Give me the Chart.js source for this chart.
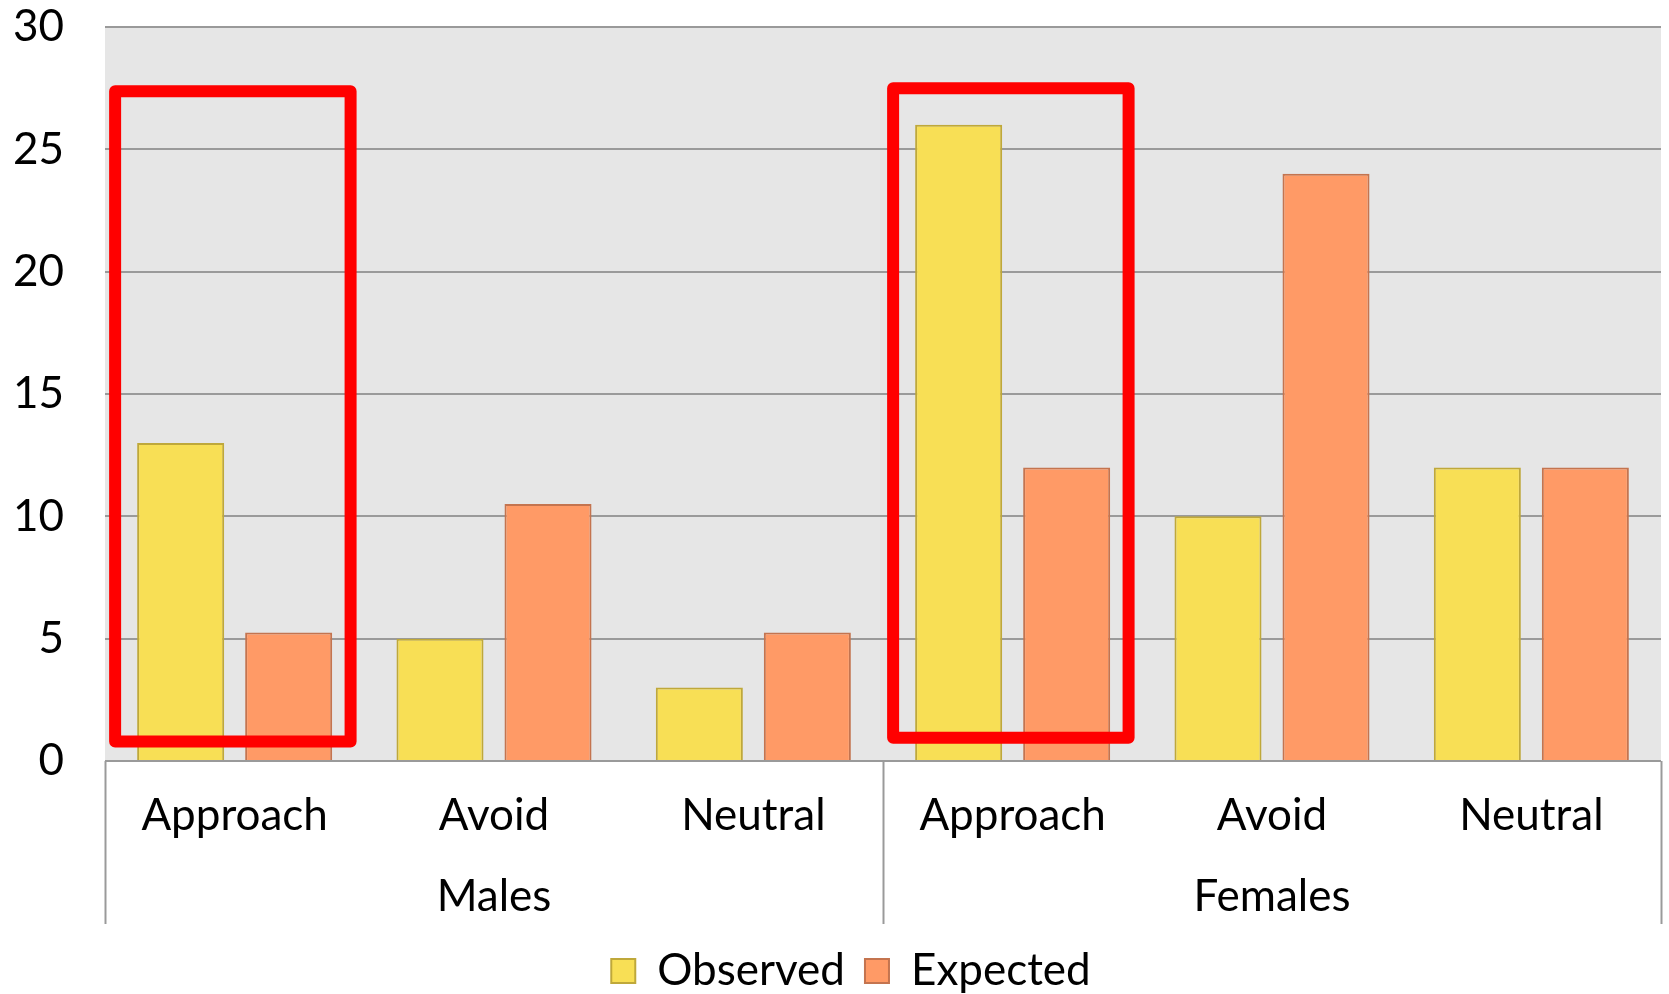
<!DOCTYPE html>
<html>
<head>
<meta charset="utf-8">
<script src="https://cdn.jsdelivr.net/npm/chart.js@4.4.1/dist/chart.umd.min.js"></script>
<style>
  html, body { margin: 0; padding: 0; background: #ffffff; }
  #wrap { width: 1669px; height: 994px; }
</style>
</head>
<body>
<div id="wrap"><canvas id="c" width="1669" height="994"></canvas></div>
<script>
// ---- data ----
const categories = ['Approach', 'Avoid', 'Neutral', 'Approach', 'Avoid', 'Neutral'];
const groupLabels = ['Males', 'Females'];
const groupSpans = [3, 3];
const observed = [13, 5, 3, 26, 10, 12];
const expected = [5.25, 10.5, 5.25, 12, 24, 12];
const seriesNames = ['Observed', 'Expected'];
const yMin = 0, yMax = 30, yStep = 5;
// highlighted categories (red frames), in data units
const highlightIndex = [0, 3];
const highlightTop = [27.37, 27.5];
const highlightBottom = [0.8, 0.95];

const FONT = 'Lato';
const FS = 44;

const plotBg = {
  id: 'plotBg',
  beforeDraw(chart) {
    const { ctx, chartArea: a } = chart;
    ctx.save();
    ctx.fillStyle = '#e6e6e6';
    ctx.fillRect(a.left, a.top, a.right - a.left, a.bottom - a.top);
    ctx.restore();
  }
};

const legendShift = {
  id: 'legendShift',
  afterLayout(chart) {
    if (chart.legend) { chart.legend.left += 14; chart.legend.right += 14; }
  }
};

const groupAxis = {
  id: 'groupAxis',
  afterDraw(chart) {
    const { ctx, chartArea: a } = chart;
    const xs = chart.scales.x;
    const step = xs.getPixelForTick(1) - xs.getPixelForTick(0);
    const bottom = a.bottom + 163;
    ctx.save();
    ctx.strokeStyle = '#9a9a9a';
    ctx.lineWidth = 2;
    const seps = [xs.left];
    let idx = 0;
    groupSpans.forEach(n => { idx += n; seps.push(xs.getPixelForTick(idx - 1) + step / 2); });
    seps.forEach(x => {
      ctx.beginPath();
      ctx.moveTo(Math.round(x) + 0.5, a.bottom);
      ctx.lineTo(Math.round(x) + 0.5, bottom);
      ctx.stroke();
    });
    ctx.fillStyle = '#000';
    ctx.font = FS + 'px ' + FONT;
    ctx.textAlign = 'center';
    ctx.textBaseline = 'middle';
    idx = 0;
    groupLabels.forEach((g, i) => {
      const first = xs.getPixelForTick(idx);
      const last = xs.getPixelForTick(idx + groupSpans[i] - 1);
      ctx.fillText(g, (first + last) / 2, a.bottom + 136);
      idx += groupSpans[i];
    });
    ctx.restore();
  }
};

const frames = {
  id: 'frames',
  afterDatasetsDraw(chart) {
    const { ctx } = chart;
    const xs = chart.scales.x, ys = chart.scales.y;
    const step = xs.getPixelForTick(1) - xs.getPixelForTick(0);
    ctx.save();
    ctx.strokeStyle = '#ff0000';
    ctx.lineWidth = 12;
    ctx.lineJoin = 'round';
    highlightIndex.forEach((ci, i) => {
      const cx = xs.getPixelForTick(ci);
      const x0 = cx - 0.461 * step, x1 = cx + 0.447 * step;
      const y0 = ys.getPixelForValue(highlightTop[i]);
      const y1 = ys.getPixelForValue(highlightBottom[i]);
      ctx.strokeRect(x0, y0, x1 - x0, y1 - y0);
    });
    ctx.restore();
  }
};

new Chart(document.getElementById('c'), {
  type: 'bar',
  data: {
    labels: categories,
    datasets: [
      { label: seriesNames[0], data: observed, backgroundColor: '#f8df55', borderColor: '#bfa83a', borderWidth: 2,
        categoryPercentage: 0.833, barPercentage: 0.806 },
      { label: seriesNames[1], data: expected, backgroundColor: '#ff9a66', borderColor: '#c4744f', borderWidth: 2,
        categoryPercentage: 0.833, barPercentage: 0.806 }
    ]
  },
  options: {
    responsive: false,
    animation: false,
    devicePixelRatio: 1,
    layout: { padding: { left: 13, right: 8, top: 0, bottom: -9 } },
    plugins: {
      tooltip: { enabled: false },
      legend: {
        position: 'bottom',
        labels: {
          font: { family: FONT, size: FS },
          color: '#000',
          boxWidth: 24,
          boxHeight: 24,
          padding: 20
        }
      }
    },
    scales: {
      x: {
        grid: { display: false },
        border: { display: false },
        ticks: { font: { family: FONT, size: FS }, color: '#000', padding: 20, maxRotation: 0, autoSkip: false },
        afterFit(s) { s.height = 168; }
      },
      y: {
        min: yMin, max: yMax,
        ticks: { stepSize: yStep, font: { family: FONT, size: FS }, color: '#000', padding: 41 },
        grid: { color: '#9a9a9a', lineWidth: 2, drawTicks: false },
        border: { display: false },
        afterFit(s) { s.width = 92; s.paddingTop = 27; s.paddingBottom = 0; }
      }
    }
  },
  plugins: [plotBg, legendShift, groupAxis, frames]
});
</script>
</body>
</html>
